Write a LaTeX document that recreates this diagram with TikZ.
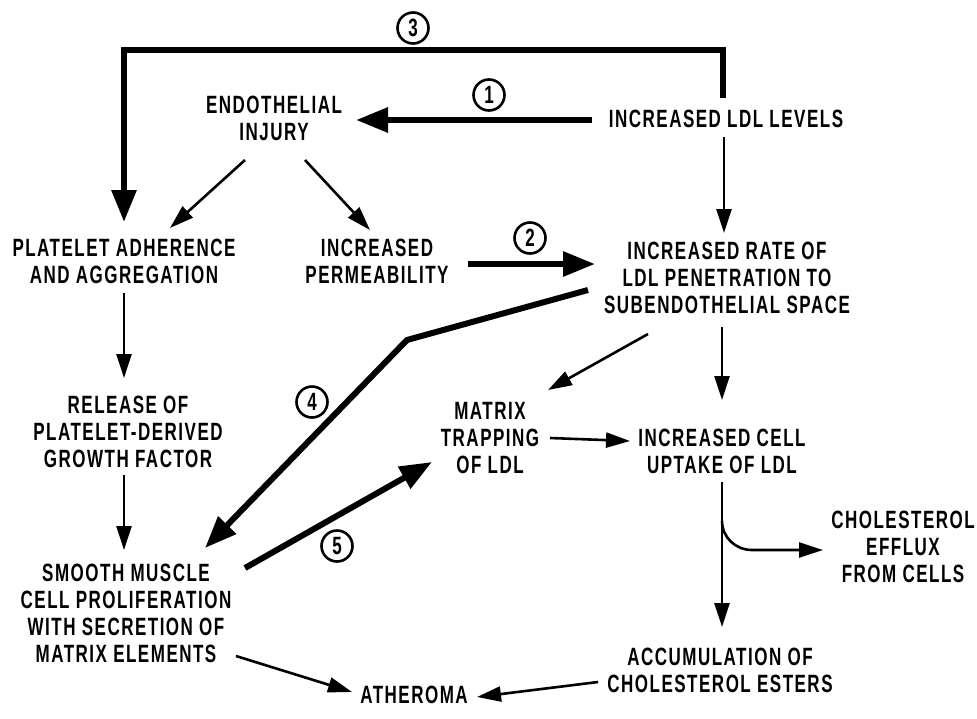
\documentclass[tikz,border=0pt]{standalone}
\usepackage{fontspec}
\setmainfont[FakeStretch=0.68,LetterSpace=6,BoldFont={Liberation Sans Bold},UprightFont={Liberation Sans Bold}]{Liberation Sans}
\usetikzlibrary{arrows.meta,calc}
\begin{document}
\begin{tikzpicture}[x=1pt,y=-1pt,
  lbl/.style={align=center,inner sep=0pt,font=\fontsize{25}{27}\selectfont},
  num/.style={circle,draw,line width=2.6pt,minimum size=31pt,inner sep=0pt,font=\fontsize{25}{25}\selectfont},
  thinarr/.style={line width=2.6pt,-{Triangle[length=24pt,width=15pt]}},
  thickarr/.style={line width=6pt,-{Triangle[length=32pt,width=24pt]}}]
\useasboundingbox (0,0) rectangle (977,718);
% nodes
\node[lbl] (levels) at (726,119) {INCREASED LDL LEVELS};
\node[lbl] (injury) at (274,118) {ENDOTHELIAL\\INJURY};
\node[lbl] (platelet) at (124,261) {PLATELET ADHERENCE\\AND AGGREGATION};
\node[lbl] (perm) at (377,261) {INCREASED\\PERMEABILITY};
\node[lbl] (rate) at (727,278) {INCREASED RATE OF\\LDL PENETRATION TO\\SUBENDOTHELIAL SPACE};
\node[lbl] (release) at (128,432) {RELEASE OF\\PLATELET-DERIVED\\GROWTH FACTOR};
\node[lbl] (matrix) at (490,438) {MATRIX\\TRAPPING\\OF LDL};
\node[lbl] (uptake) at (722,451) {INCREASED CELL\\UPTAKE OF LDL};
\node[lbl] (efflux) at (903,547) {CHOLESTEROL\\EFFLUX\\FROM CELLS};
\node[lbl] (accum) at (720,670) {ACCUMULATION OF\\CHOLESTEROL ESTERS};
\node[lbl] (smooth) at (126,613) {SMOOTH MUSCLE\\CELL PROLIFERATION\\WITH SECRETION OF\\MATRIX ELEMENTS};
\node[lbl] (ather) at (414,695) {ATHEROMA};
% circled numbers
\node[num] (n1) at (489,95) {1};
\node[num] (n2) at (530,238) {2};
\node[num] (n3) at (413,28) {3};
\node[num] (n4) at (312,402) {4};
\node[num] (n5) at (337,546) {5};
% thick pathways
\draw[thickarr] ($(levels)+(-3,-21)$) |- ($(platelet)+(0,-211)$) -- ($(platelet)+(0,-39)$);
\draw[thickarr] ($(levels)+(-134,1)$) -- ($(injury)+(82,2)$);
\draw[thickarr] ($(perm)+(91,3)$) -- ($(rate)+(-132,-14)$);
\draw[thickarr] ($(rate)+(-139,12)$) -- ($(rate)+(-320,62)$) -- ($(smooth)+(79,-65)$);
\draw[thickarr] ($(smooth)+(119,-45)$) -- ($(matrix)+(-58,24)$);
% thin arrows
\draw[thinarr] ($(injury)+(-29,42)$) -- ($(platelet)+(46,-33)$);
\draw[thinarr] ($(injury)+(31,42)$) -- ($(perm)+(-7,-31)$);
\draw[thinarr] ($(levels)+(-2,18)$) -- ($(rate)+(-3,-45)$);
\draw[thinarr] ($(platelet)+(0,32)$) -- ($(release)+(-4,-54)$);
\draw[thinarr] ($(release)+(-4,43)$) -- ($(smooth)+(-2,-63)$);
\draw[thinarr] ($(rate)+(-79,56)$) -- ($(matrix)+(58,-48)$);
\draw[thinarr] ($(rate)+(-5,49)$) -- ($(uptake)+(0,-51)$);
\draw[thinarr] ($(matrix)+(60,0)$) -- ($(uptake)+(-92,-10)$);
\draw[thinarr] ($(uptake)+(0,31)$) -- ($(accum)+(2,-43)$);
\draw[thinarr] ($(uptake)+(0,70)$) to[out=-90,in=180] ($(uptake)+(30,99)$) -- ($(efflux)+(-80,3)$);
\draw[thinarr] ($(smooth)+(110,43)$) -- ($(ather)+(-62,-3)$);
\draw[thinarr] ($(accum)+(-122,12)$) -- ($(ather)+(63,2)$);
\end{tikzpicture}
\end{document}
